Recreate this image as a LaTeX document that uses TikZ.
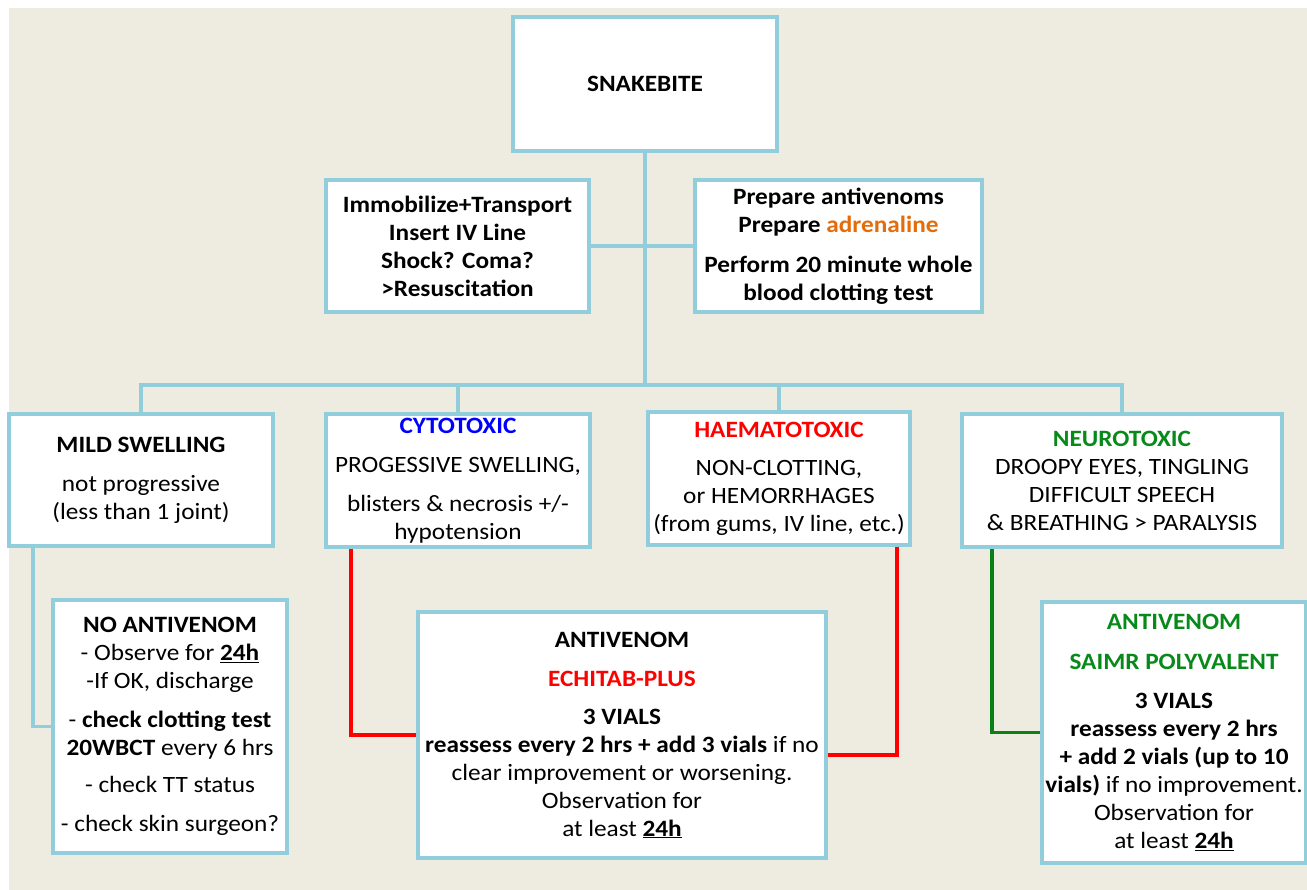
\documentclass[tikz,border=0pt]{standalone}
\usepackage{fontspec}
\setmainfont{Carlito}[FakeStretch=1.08]
\usetikzlibrary{calc}
\definecolor{bgtan}{HTML}{EEECE1}
\definecolor{boxblue}{HTML}{92CDDC}
\definecolor{bluec}{HTML}{0000FF}
\definecolor{redc}{HTML}{FF0000}
\definecolor{greenc}{HTML}{088A1A}
\definecolor{greenl}{HTML}{0A8016}
\definecolor{orangec}{HTML}{E46C0A}
\begin{document}
\begin{tikzpicture}[x=1pt,y=-1pt,
  box/.style={draw=boxblue, line width=3.8pt, fill=white, inner sep=0pt, align=center,
    font=\fontsize{23.4}{28}\selectfont},
  boldbox/.style={box, font=\fontsize{23.4}{28}\selectfont\bfseries},
  link/.style={draw=boxblue, line width=3.8pt},
  redlink/.style={draw=redc, line width=3.8pt},
  greenlink/.style={draw=greenl, line width=3.8pt}]
\useasboundingbox (0,0) rectangle (1307,890);
\fill[bgtan] (9,8) rectangle (1307,890);

\node[boldbox, minimum width=264pt, minimum height=134pt] (snake) at (645,84) {SNAKEBITE};
\node[boldbox, minimum width=263pt, minimum height=132pt] (immob) at (457.5,246)
  {Immobilize+Transport\\Insert IV Line\\Shock? Coma?\\>Resuscitation};
\node[boldbox, minimum width=287pt, minimum height=132pt] (prep) at (838.5,246)
  {Prepare antivenoms\\Prepare \textcolor{orangec}{adrenaline}\\[12pt]Perform 20 minute whole\\blood clotting test};

\node[box, minimum width=264pt, minimum height=132pt] (mild) at (141,480)
  {\textbf{MILD SWELLING}\\[11pt]not progressive\\(less than 1 joint)};
\node[box, minimum width=264pt, minimum height=133pt] (cyto) at (458,480.5)
  {\textcolor{bluec}{\textbf{CYTOTOXIC}}\\[11pt]PROGESSIVE SWELLING,\\[11pt]blisters \& necrosis +/-\\hypotension};
\node[box, minimum width=262pt, minimum height=133pt] (haem) at (779,478.5)
  {\textcolor{redc}{\textbf{HAEMATOTOXIC}}\\[10pt]NON-CLOTTING,\\or HEMORRHAGES\\(from gums, IV line, etc.)};
\node[box, minimum width=320pt, minimum height=133pt] (neuro) at (1122,480.5)
  {\textcolor{greenc}{\textbf{NEUROTOXIC}}\\DROOPY EYES, TINGLING\\DIFFICULT SPEECH\\\& BREATHING > PARALYSIS};

\node[box, minimum width=234pt, minimum height=253pt] (noav) at (170,726.5)
  {\textbf{NO ANTIVENOM}\\- Observe for \underline{\textbf{24h}}\\-If OK, discharge\\[11pt]- \textbf{check clotting test}\\\textbf{20WBCT} every 6 hrs\\[9pt]- check TT status\\[11pt]- check skin surgeon?};
\node[box, minimum width=408pt, minimum height=246pt] (echi) at (622,735)
  {\textbf{ANTIVENOM}\\[11pt]\textcolor{redc}{\textbf{ECHITAB-PLUS}}\\[10pt]\textbf{3 VIALS}\\\textbf{reassess every 2 hrs + add 3 vials} if no\\clear improvement or worsening.\\Observation for\\at least \underline{\textbf{24h}}};
\node[box, minimum width=264pt, minimum height=261pt] (saimr) at (1174,732.5)
  {\textcolor{greenc}{\textbf{ANTIVENOM}}\\[12pt]\textcolor{greenc}{\textbf{SAIMR POLYVALENT}}\\[11pt]\textbf{3 VIALS}\\\textbf{reassess every 2 hrs}\\\textbf{+ add 2 vials (up to 10}\\\textbf{vials)} if no improvement.\\Observation for\\at least \underline{\textbf{24h}}};

\coordinate (bus) at (645,385);
\draw[link] (snake.south) -- (bus);
\draw[link] (immob.east) -- (prep.west);
\draw[link] (mild.north) |- (bus) -| (neuro.north);
\draw[link] (cyto.north) |- (bus);
\draw[link] (haem.north) |- (bus);
\draw[link] ([xshift=26pt]mild.south west) |- (noav.west);
\draw[redlink] ([xshift=27pt]cyto.south west) |- (echi.west);
\draw[redlink] ([xshift=-15pt]haem.south east) |- ([yshift=-20pt]echi.east);
\draw[greenlink] ([xshift=32pt]neuro.south west) |- (saimr.west);
\end{tikzpicture}
\end{document}
